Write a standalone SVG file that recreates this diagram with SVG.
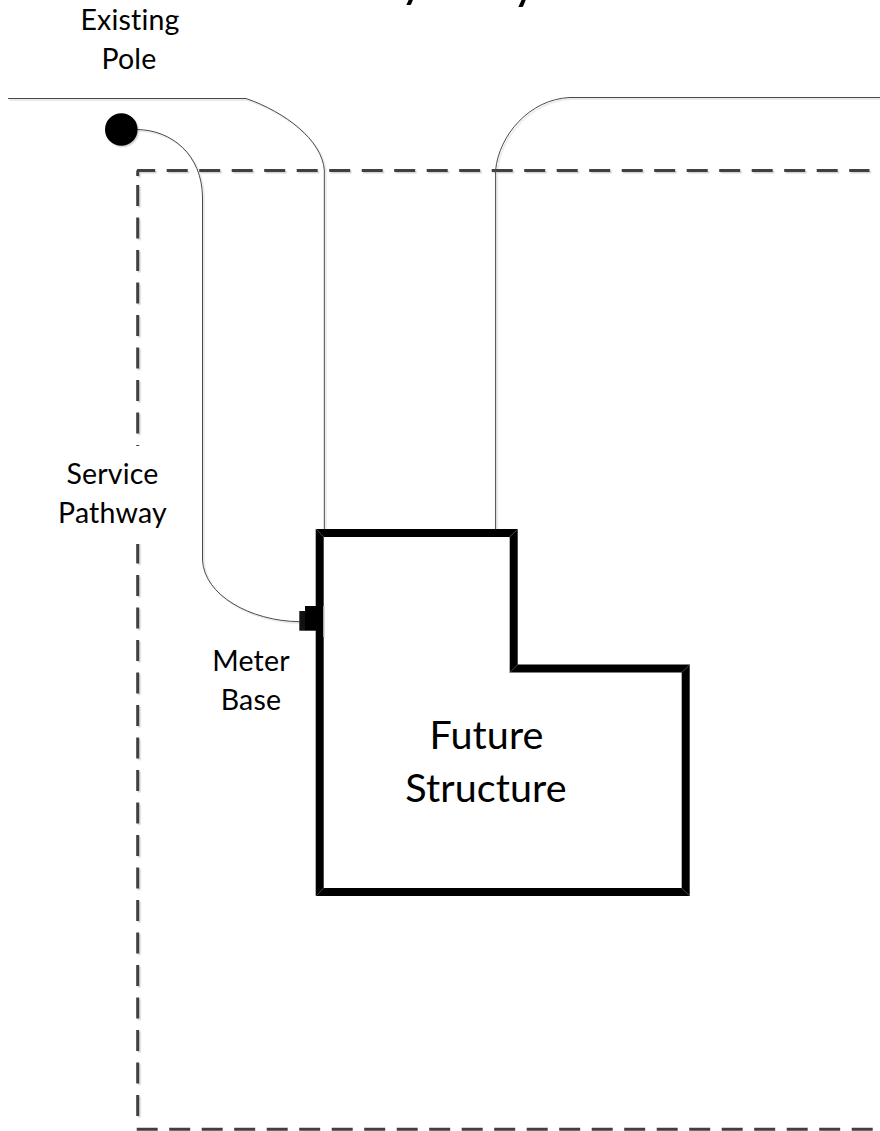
<svg xmlns="http://www.w3.org/2000/svg" width="880" height="1131" viewBox="0 0 880 1131">
<defs>
<filter id="sh" x="-5%" y="-5%" width="110%" height="110%"><feDropShadow dx="1.5" dy="1.5" stdDeviation="0.6" flood-color="#000" flood-opacity="0.16"/></filter>
</defs>
<style>
text{font-family:Lato,"Noto Sans","Liberation Sans",sans-serif;fill:#000;text-anchor:middle;font-variant-ligatures:none}
.s{font-size:28.500px;letter-spacing:.2px}
.l{font-size:39.500px;letter-spacing:.1px}
.t{font-size:50px}
.w{fill:none;stroke:#4a4a4a;stroke-width:1}
.d{fill:none;stroke:#404040;stroke-width:3;stroke-dasharray:21 11.500}
.m{stroke:#666;stroke-width:.7}
</style>
<rect width="880" height="1131" fill="#fff"/>
<g id="connectors">
<g filter="url(#sh)">
<path id="boundary-top" class="d" stroke-dashoffset="2.800" d="M137 170.500H869.500"/>
<path id="boundary-left" class="d" d="M137.700 185V1117"/>
<path id="boundary-corner" d="M137.700 176V170.500" stroke="#404040" stroke-width="3" fill="none"/>
<path id="overhead-left" class="w" d="M8 98.500H246C285 112 322 140 324.300 170V530"/>
<path id="overhead-right" class="w" d="M880 97.500H570C530 99 499 135 495.600 170V530"/>
<path id="service-line" class="w" d="M137 129.500C172 130 202 155 202.500 197V560C204 595 250 621 299.500 621.700"/>
</g>
<path id="boundary-bottom" class="d" stroke-width="2.500" d="M136.700 1129.300H880"/>
</g>
<g id="pole" filter="url(#sh)"><circle cx="121.300" cy="129.500" r="16.300" fill="#000"/></g>
<g id="structure">
<path d="M319.700 533H513.700V668.500H685.700V892H319.700Z" fill="none" stroke="#000" stroke-width="8" stroke-linejoin="miter"/>
<path class="m" d="M316 529L323.700 537M518 529L509.500 537M509.500 672.700L518 664.500M690 664.500L681.500 672.700M690 896L681.500 888M316 896L323.700 888"/>
</g>
<g id="meter-base">
<path d="M324 606V637" stroke="#ccc" stroke-width="1.500" fill="none"/>
<rect x="299.300" y="611" width="6" height="19.700" fill="#111"/>
<rect x="305" y="606" width="12" height="24.700" fill="#000"/>
</g>
<g id="label-title"><text class="t" x="413" y="-4">y</text><text class="t" x="525" y="-2">y</text></g>
<g id="label-pole"><text class="s" x="130" y="30">Existing</text><text class="s" x="129" y="69">Pole</text></g>
<g id="label-pathway"><rect x="60" y="446" width="110" height="98" fill="#fff"/><text class="s" x="112.500" y="484">Service</text><text class="s" x="112.500" y="523">Pathway</text></g>
<g id="label-meter"><text class="s" x="251" y="671">Meter</text><text class="s" x="251" y="709.500">Base</text></g>
<g id="label-structure"><text class="l" x="486.500" y="749">Future</text><text class="l" x="486" y="801.500">Structure</text></g>
</svg>
